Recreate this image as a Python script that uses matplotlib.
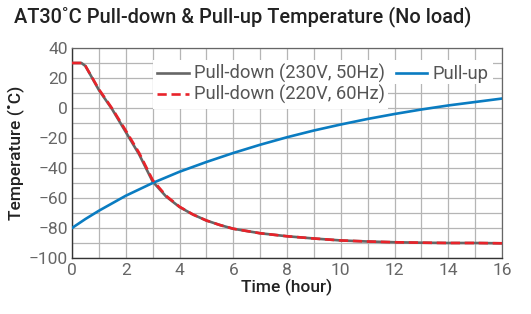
import matplotlib
matplotlib.use("Agg")
import matplotlib.pyplot as plt
from matplotlib.ticker import MultipleLocator
from matplotlib.patches import Rectangle
from matplotlib.transforms import Bbox

# Data
t_down = [0, 0.35, 0.5, 1, 1.5, 2, 2.5, 3, 3.5, 4, 4.5, 5, 5.5, 6, 7, 8, 9, 10, 11, 12, 13, 14, 15, 16]
pd_230 = [30, 30, 28, 12, -1, -16, -31, -49, -59, -66, -71, -75, -78, -80.5, -83.5, -85.5, -87, -88.3, -89, -89.5, -89.8, -90, -90, -90.2]
pd_220 = [30, 30, 28, 12.5, -0.5, -15, -30, -48, -58.5, -65.8, -71, -75, -78, -80.5, -83.5, -85.5, -87, -88.3, -89, -89.5, -89.8, -90, -90, -90.2]
t_up = [0, 0.5, 1, 2, 3, 4, 5, 6, 7, 8, 9, 10, 11, 12, 13, 14, 15, 16]
pull_up = [-80, -74, -68.5, -58.5, -50, -42.5, -36, -30, -24.5, -19.5, -15, -11, -7.3, -4, -1, 1.7, 4, 6.3]

title = "AT30˚C Pull-down & Pull-up Temperature (No load)"
xlabel = "Time (hour)"
ylabel = "Temperature (˚C)"
labels = ["Pull-down (230V, 50Hz)", "Pull-down (220V, 60Hz)", "Pull-up"]

plt.rcParams['font.family'] = ['Roboto', 'DejaVu Sans']

fig = plt.figure(figsize=(5.31, 3.14), dpi=100)
ax = fig.add_axes([72/531, 1-258/314, (502-72)/531, (258-48)/314])

ax.plot(t_down, pd_230, color='#666666', lw=1.9, label=labels[0], zorder=3)
ax.plot(t_down, pd_220, color='#e8232a', lw=1.9, ls=(0, (3.5, 1.8)), label=labels[1], zorder=4)
ax.plot(t_up, pull_up, color='#0a7cc1', lw=1.9, label=labels[2], zorder=3)

ax.set_xlim(0, 16)
ax.set_ylim(-100, 40)
ax.xaxis.set_major_locator(MultipleLocator(2))
ax.xaxis.set_minor_locator(MultipleLocator(1))
ax.yaxis.set_major_locator(MultipleLocator(20))
ax.yaxis.set_minor_locator(MultipleLocator(10))
ax.grid(which='both', color='#b5b5b5', lw=0.9, zorder=0)
ax.set_axisbelow(True)
ax.tick_params(which='both', length=0, labelsize=12.5, colors='#666666', pad=3)
ax.tick_params(axis='x', pad=3.5)
for s in ['left', 'bottom']:
    ax.spines[s].set_color('#333333')
    ax.spines[s].set_linewidth(1.0)
for s in ['top', 'right']:
    ax.spines[s].set_color('#666666')
    ax.spines[s].set_linewidth(0.9)

ax.set_xlabel(xlabel, fontsize=12.5, fontweight='medium', color='#222222', labelpad=1)
ax.set_ylabel(ylabel, fontsize=12.5, fontweight='medium', color='#222222', labelpad=3)

fig.text(14/531, 1-17/314, title, fontsize=14.4, fontweight='medium', color='#222222', va='center', ha='left')

leg = ax.legend(ncol=2, loc='upper right', bbox_to_anchor=(0.98, 0.945), frameon=False,
                fontsize=13.2, handlelength=1.7, handletextpad=0.3, columnspacing=0.6,
                borderpad=0.25, labelspacing=0.1, borderaxespad=0)
for txt in leg.get_texts():
    txt.set_color('#555555')

# White backgrounds behind the legend rows (row 2 only as wide as its entry)
fig.canvas.draw()
r = fig.canvas.get_renderer()
lb = leg.get_window_extent(r)
texts = leg.get_texts()
handles = leg.legend_handles
e0 = Bbox.union([texts[0].get_window_extent(r), handles[0].get_window_extent(r)])
e1 = Bbox.union([texts[1].get_window_extent(r), handles[1].get_window_extent(r)])
mid = (e0.y0 + e1.y1) / 2
inv = fig.transFigure.inverted()
rows = [
    (lb.x0, mid, lb.x1, lb.y1),
    (lb.x0, lb.y0, e1.x1 + 3, mid),
]
for x0, y0, x1, y1 in rows:
    (fx0, fy0), (fx1, fy1) = inv.transform([(x0, y0), (x1, y1)])
    ax.add_patch(Rectangle((fx0, fy0), fx1 - fx0, fy1 - fy0, transform=fig.transFigure,
                           facecolor='white', edgecolor='none', zorder=1, clip_on=False))

fig.savefig('out.png', dpi=100)
